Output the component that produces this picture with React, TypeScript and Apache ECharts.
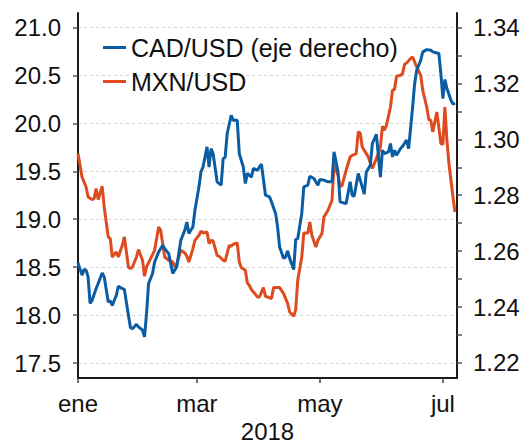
import React, { useEffect, useRef } from 'react';
import * as echarts from 'echarts';

// CAD/USD (right axis)
const cadDates = [
  '2018-01-01','2018-01-03','2018-01-04','2018-01-05','2018-01-06','2018-01-07','2018-01-08','2018-01-10','2018-01-11','2018-01-13','2018-01-14','2018-01-16','2018-01-17','2018-01-18','2018-01-20','2018-01-21','2018-01-23','2018-01-24','2018-01-26','2018-01-27','2018-01-28','2018-01-30','2018-01-31',
  '2018-02-02','2018-02-03','2018-02-04','2018-02-05','2018-02-07','2018-02-08','2018-02-10','2018-02-12','2018-02-13','2018-02-15','2018-02-17','2018-02-19','2018-02-21','2018-02-23','2018-02-24','2018-02-25','2018-02-27','2018-02-28',
  '2018-03-02','2018-03-03','2018-03-04','2018-03-06','2018-03-07','2018-03-08','2018-03-09','2018-03-11','2018-03-13','2018-03-14','2018-03-15','2018-03-16','2018-03-18','2018-03-19','2018-03-21','2018-03-22','2018-03-24','2018-03-25','2018-03-26','2018-03-28','2018-03-29','2018-03-31',
  '2018-04-01','2018-04-02','2018-04-04','2018-04-06','2018-04-07','2018-04-09','2018-04-10','2018-04-11','2018-04-13','2018-04-14','2018-04-15','2018-04-16','2018-04-18','2018-04-19','2018-04-20','2018-04-22','2018-04-23','2018-04-25','2018-04-26','2018-04-28','2018-04-30',
  '2018-05-01','2018-05-03','2018-05-05','2018-05-07','2018-05-08','2018-05-10','2018-05-11','2018-05-13','2018-05-14','2018-05-16','2018-05-17','2018-05-18','2018-05-20','2018-05-22','2018-05-23','2018-05-24','2018-05-26','2018-05-27','2018-05-29','2018-05-31',
  '2018-06-01','2018-06-02','2018-06-04','2018-06-05','2018-06-06','2018-06-07','2018-06-08','2018-06-10','2018-06-11','2018-06-13','2018-06-14','2018-06-16','2018-06-17','2018-06-18','2018-06-20','2018-06-21','2018-06-23','2018-06-25','2018-06-26','2018-06-28','2018-06-29','2018-06-30',
  '2018-07-01','2018-07-02','2018-07-03','2018-07-05','2018-07-06','2018-07-07'
];
const cadValues = [
  1.2558,1.2514,1.2534,1.2532,1.2508,1.2413,1.2424,1.2466,1.2484,1.2522,1.2508,1.2418,1.2422,1.2406,1.2442,1.2474,1.2466,1.2463,1.2371,1.2327,1.2322,1.2338,1.2329,
  1.2317,1.2293,1.2377,1.2484,1.2520,1.2561,1.2597,1.2621,1.2609,1.2591,1.2520,1.2544,1.2639,1.2675,1.2704,1.2663,1.2687,1.2746,
  1.2830,1.2883,1.2901,1.2973,1.2901,1.2967,1.2949,1.2848,1.2836,1.2931,1.2935,1.3021,1.3086,1.3068,1.3068,1.2949,1.2901,1.2842,1.2878,1.2865,1.2896,1.2889,
  1.2901,1.2911,1.2800,1.2794,1.2776,1.2735,1.2687,1.2615,1.2574,1.2579,1.2601,1.2574,1.2534,1.2642,1.2645,1.2735,1.2830,1.2836,1.2868,1.2860,1.2836,
  1.2856,1.2854,1.2848,1.2848,1.2955,1.2883,1.2776,1.2772,1.2770,1.2848,1.2800,1.2796,1.2878,1.2830,1.2804,1.2883,1.2907,1.2985,1.3018,1.2865,
  1.2961,1.2949,1.2955,1.2985,1.2937,1.2961,1.2943,1.2967,1.2975,1.2997,1.2967,1.3116,1.3200,1.3247,1.3283,1.3313,1.3321,1.3319,1.3313,1.3309,1.3307,1.3235,
  1.3146,1.3214,1.3182,1.3140,1.3126,1.3130
];

// MXN/USD (left axis)
const mxnDates = [
  '2018-01-01','2018-01-03','2018-01-05','2018-01-06','2018-01-08','2018-01-09','2018-01-10','2018-01-11','2018-01-13','2018-01-14','2018-01-16','2018-01-17','2018-01-18','2018-01-20','2018-01-21','2018-01-23','2018-01-24','2018-01-26','2018-01-27','2018-01-28','2018-01-30','2018-01-31',
  '2018-02-02','2018-02-03','2018-02-04','2018-02-06','2018-02-08','2018-02-10','2018-02-11','2018-02-13','2018-02-15','2018-02-17','2018-02-18','2018-02-19','2018-02-21','2018-02-23','2018-02-24','2018-02-25','2018-02-27','2018-02-28',
  '2018-03-02','2018-03-03','2018-03-04','2018-03-06','2018-03-07','2018-03-08','2018-03-09','2018-03-11','2018-03-12','2018-03-14','2018-03-15','2018-03-17','2018-03-18','2018-03-19','2018-03-21','2018-03-22','2018-03-23','2018-03-25','2018-03-26','2018-03-27','2018-03-28','2018-03-30','2018-03-31',
  '2018-04-01','2018-04-03','2018-04-04','2018-04-05','2018-04-07','2018-04-08','2018-04-11','2018-04-13','2018-04-15','2018-04-16','2018-04-18','2018-04-19','2018-04-20','2018-04-22','2018-04-23','2018-04-25','2018-04-26','2018-04-27','2018-04-29','2018-04-30',
  '2018-05-02','2018-05-03','2018-05-05','2018-05-07','2018-05-08','2018-05-10','2018-05-11','2018-05-12','2018-05-14','2018-05-16','2018-05-17','2018-05-19','2018-05-20','2018-05-21','2018-05-22','2018-05-24','2018-05-25','2018-05-27','2018-05-28','2018-05-30','2018-05-31',
  '2018-06-01','2018-06-02','2018-06-03','2018-06-05','2018-06-06','2018-06-07','2018-06-08','2018-06-10','2018-06-11','2018-06-12','2018-06-13','2018-06-15','2018-06-16','2018-06-17','2018-06-18','2018-06-20','2018-06-21','2018-06-23','2018-06-24','2018-06-25','2018-06-26','2018-06-28','2018-06-29','2018-06-30',
  '2018-07-01','2018-07-02','2018-07-03','2018-07-04','2018-07-05','2018-07-06','2018-07-07'
];
const mxnValues = [
  19.685,19.441,19.337,19.232,19.205,19.216,19.320,19.205,19.344,19.128,18.815,18.798,18.606,18.658,18.606,18.728,18.815,18.502,18.485,18.502,18.606,18.683,
  18.572,18.405,18.502,18.590,18.676,18.919,18.885,18.606,18.572,18.554,18.502,18.537,18.676,18.648,18.614,18.554,18.694,18.780,
  18.833,18.877,18.857,18.867,18.746,18.780,18.773,18.624,18.614,18.572,18.564,18.728,18.718,18.739,18.752,18.554,18.496,18.467,18.335,18.311,18.266,18.217,18.189,
  18.189,18.287,18.196,18.189,18.172,18.287,18.287,18.224,18.120,18.032,17.987,18.057,18.363,18.606,18.857,18.857,18.971,18.833,18.711,18.780,
  18.850,19.024,19.094,19.198,19.563,19.459,19.337,19.354,19.511,19.650,19.667,19.685,19.911,19.900,19.754,19.685,19.650,19.529,19.581,19.685,19.754,
  19.970,19.928,19.980,20.171,20.346,20.353,20.492,20.502,20.520,20.617,20.631,20.677,20.693,20.641,20.589,20.502,20.346,20.171,20.040,20.033,19.911,20.119,19.957,19.790,
  19.782,20.171,19.824,19.581,19.407,19.232,19.076
];

const leftTicks = [17.5, 18.0, 18.5, 19.0, 19.5, 20.0, 20.5, 21.0];
const rightTicks = [1.22, 1.23, 1.24, 1.25, 1.26, 1.27, 1.28, 1.29, 1.3, 1.31, 1.32, 1.33, 1.34];
const rightLabels = [1.22, 1.24, 1.26, 1.28, 1.3, 1.32, 1.34];
const xStart = '2018-01-01';
const xEnd = '2018-07-08';
const xTickDates = ['2018-01-01', '2018-03-01', '2018-05-01', '2018-07-01'];
const xTickLabels = ['ene', 'mar', 'may', 'jul'];
const yearLabel = '2018';
const cadName = 'CAD/USD (eje derecho)';
const mxnName = 'MXN/USD';

const FONT = "'Liberation Sans', Arial, sans-serif";
const BLUE = '#0a5da3';
const ORANGE = '#de4b1f';

// day of year (0 = 1 January) for a YYYY-MM-DD string
const dayOfYear = (s: string) => {
  const [y, m, d] = s.split('-').map(Number);
  return Math.round((Date.UTC(y, m - 1, d) - Date.UTC(y, 0, 1)) / 86400000);
};

export default function App() {
  const ref = useRef<HTMLDivElement>(null);
  useEffect(() => {
    const chart = echarts.init(ref.current as HTMLDivElement, null, { renderer: 'svg' });
    const xTicks = xTickDates.map(dayOfYear);
    const axisLineStyle = { color: '#1a1a1a', width: 2 };
    chart.setOption({
      animation: false,
      backgroundColor: '#fff',
      textStyle: { fontFamily: FONT },
      grid: { left: 78, right: 68, top: 13, bottom: 65, containLabel: false, outerBoundsMode: 'none' },
      legend: {
        orient: 'vertical',
        left: 103,
        top: 35,
        padding: 0,
        itemGap: 9,
        itemWidth: 23,
        itemHeight: 3,
        icon: 'rect',
        data: [cadName, mxnName],
        textStyle: { fontSize: 25, color: '#111', fontFamily: FONT },
      },
      xAxis: {
        type: 'value',
        min: dayOfYear(xStart),
        max: dayOfYear(xEnd),
        name: yearLabel,
        nameLocation: 'middle',
        nameGap: 42,
        nameTextStyle: { fontSize: 24, lineHeight: 18, color: '#111', fontFamily: FONT },
        axisLine: { show: true, onZero: false, lineStyle: axisLineStyle },
        axisTick: { show: true, length: 5, lineStyle: { color: '#444', width: 1.5 }, customValues: xTicks },
        axisLabel: {
          customValues: xTicks,
          fontSize: 24,
          color: '#111',
          fontFamily: FONT,
          margin: 13,
          formatter: (v: number) => {
            const i = xTicks.indexOf(Math.round(v));
            return i >= 0 ? xTickLabels[i] : '';
          },
        },
        splitLine: { show: false },
      },
      yAxis: [
        {
          type: 'value',
          position: 'left',
          min: 17.3435,
          max: 21.152,
          axisLine: { show: true, lineStyle: axisLineStyle },
          axisTick: { show: true, length: 5, lineStyle: { color: '#555', width: 1.5 }, customValues: leftTicks },
          axisLabel: {
            customValues: leftTicks,
            fontSize: 24,
            color: '#111',
            fontFamily: FONT,
            margin: 17,
            formatter: (v: number) => v.toFixed(1),
          },
          splitLine: { show: true, lineStyle: { color: '#d2d2d2', width: 1, type: [3, 3] } },
        },
        {
          type: 'value',
          position: 'right',
          min: 1.2146,
          max: 1.3452,
          axisLine: { show: true, lineStyle: axisLineStyle },
          axisTick: { show: true, length: 5, lineStyle: { color: '#555', width: 1.5 }, customValues: rightTicks },
          axisLabel: {
            customValues: rightLabels,
            fontSize: 24,
            color: '#111',
            fontFamily: FONT,
            margin: 16,
            formatter: (v: number) => v.toFixed(2),
          },
          splitLine: { show: false },
        },
      ],
      series: [
        {
          name: mxnName,
          type: 'line',
          yAxisIndex: 0,
          showSymbol: false,
          symbol: 'none',
          color: ORANGE,
          lineStyle: { color: ORANGE, width: 3 },
          data: mxnDates.map((d, i) => [dayOfYear(d), mxnValues[i]]),
        },
        {
          name: cadName,
          type: 'line',
          yAxisIndex: 1,
          showSymbol: false,
          symbol: 'none',
          color: BLUE,
          lineStyle: { color: BLUE, width: 3 },
          data: cadDates.map((d, i) => [dayOfYear(d), cadValues[i]]),
        },
      ],
    });
    return () => chart.dispose();
  }, []);
  return (
    <div
      ref={ref}
      style={{ position: 'fixed', left: 0, top: 0, width: 525, height: 443, background: '#fff' }}
    />
  );
}
